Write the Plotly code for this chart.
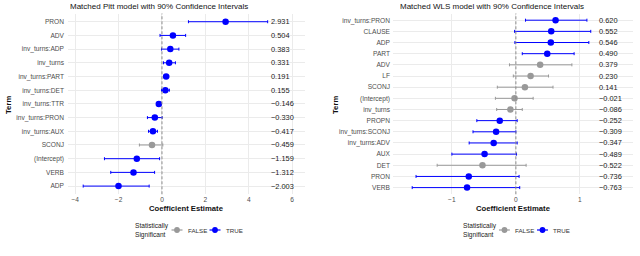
import plotly.graph_objects as go

# ---------------- data ----------------
pitt_terms = ["PRON", "ADV", "inv_turns:ADP", "inv_turns", "inv_turns:PART", "inv_turns:DET",
              "inv_turns:TTR", "inv_turns:PRON", "inv_turns:AUX", "SCONJ", "(Intercept)", "VERB", "ADP"]
pitt_est = [2.931, 0.504, 0.383, 0.331, 0.191, 0.155, -0.146, -0.330, -0.417, -0.459, -1.159, -1.312, -2.003]
pitt_lo = [1.22, -0.09, -0.02, 0.07, 0.07, -0.02, -0.22, -0.67, -0.62, -1.04, -2.65, -2.36, -3.63]
pitt_hi = [4.87, 1.09, 0.78, 0.62, 0.31, 0.34, -0.07, 0.01, -0.21, 0.04, -0.11, -0.34, -0.59]
pitt_sig = [True, True, True, True, True, True, True, True, True, False, True, True, True]

wls_terms = ["inv_turns:PRON", "CLAUSE", "ADP", "PART", "ADV", "LF", "SCONJ", "(Intercept)", "inv_turns",
             "PROPN", "inv_turns:SCONJ", "inv_turns:ADV", "AUX", "DET", "PRON", "VERB"]
wls_est = [0.620, 0.552, 0.546, 0.490, 0.379, 0.230, 0.141, -0.021, -0.086, -0.252, -0.309, -0.347,
           -0.489, -0.522, -0.736, -0.763]
wls_lo = [0.15, -0.02, -0.015, 0.10, -0.10, -0.04, -0.29, -0.32, -0.30, -0.61, -0.67, -0.73,
          -1.00, -1.23, -1.56, -1.62]
wls_hi = [1.11, 1.17, 1.14, 0.91, 0.875, 0.51, 0.58, 0.27, 0.10, 0.02, 0.00, 0.02, 0.01, 0.16, 0.05, 0.06]
wls_sig = [True, True, True, True, False, False, False, False, False, True, True, True, True, False, True, True]

pitt_ticks = [-4, -2, 0, 2, 4, 6]
wls_ticks = [-1, 0, 1]
legend_labels = ["FALSE", "TRUE"]
legend_title = "Statistically<br>Significant"

# ---------------- style ----------------
BLUE = "#0000FF"
GREY = "#999999"
GRID = "#EBEBEB"
AXTXT = "#4D4D4D"
FONT = "Liberation Sans, Arial, sans-serif"
W, H = 640, 256

fig = go.Figure()


def fmt(v):
    return f"{v:.3f}".replace("-", "\u2212")


def add_panel(terms, est, lo, hi, sig, xa, ya, label_x):
    idx = list(range(len(terms)))
    for flag, col in ((False, GREY), (True, BLUE)):
        sel = [i for i in idx if sig[i] == flag]
        if not sel:
            continue
        fig.add_trace(go.Scatter(
            x=[est[i] for i in sel], y=[i for i in sel],
            mode="markers",
            marker=dict(color=col, size=6.5, line=dict(width=0)),
            error_x=dict(type="data", symmetric=False,
                         array=[hi[i] - est[i] for i in sel],
                         arrayminus=[est[i] - lo[i] for i in sel],
                         color=col, thickness=1, width=1.5),
            xaxis=xa, yaxis=ya, showlegend=False, hoverinfo="skip"))
    for i in idx:
        fig.add_annotation(x=label_x, y=i, xref=xa, yref=ya, text=fmt(est[i]),
                           showarrow=False, xanchor="left", yanchor="middle",
                           font=dict(size=7.4, color="#1a1a1a", family=FONT))


add_panel(pitt_terms, pitt_est, pitt_lo, pitt_hi, pitt_sig, "x", "y", 4.93)
add_panel(wls_terms, wls_est, wls_lo, wls_hi, wls_sig, "x2", "y2", 1.27)

# zero reference lines
for xr, yr in (("x", "y domain"), ("x2", "y2 domain")):
    fig.add_shape(type="line", x0=0, x1=0, y0=0, y1=1, xref=xr, yref=yr,
                  line=dict(color="#8c8c8c", width=1, dash="3px,2px"), layer="above")


# manual legends (ggplot style, compact)
def px(x):
    return x / W


def py(y):
    return 1 - y / H


def add_legend(cx):
    ly = 230
    fig.add_annotation(x=px(cx - 53.5), y=py(ly), xref="paper", yref="paper", text=legend_title,
                       showarrow=False, xanchor="left", yanchor="middle", align="left",
                       font=dict(size=6.6, color="#222", family=FONT))
    for k, (lab, col) in enumerate(zip(legend_labels, (GREY, BLUE))):
        g0 = cx - 15 + 38 * k
        fig.add_shape(type="line", x0=px(g0), x1=px(g0 + 11), y0=py(ly), y1=py(ly), xref="paper",
                      yref="paper", line=dict(color=col, width=1.2))
        r = 2.9
        gc = g0 + 5.5
        fig.add_shape(type="circle", x0=px(gc - r), x1=px(gc + r), y0=py(ly - r), y1=py(ly + r),
                      xref="paper", yref="paper", fillcolor=col, line=dict(width=0))
        fig.add_annotation(x=px(g0 + 14), y=py(ly), xref="paper", yref="paper", text=lab,
                           showarrow=False, xanchor="left", yanchor="middle",
                           font=dict(size=6.2, color="#333", family=FONT))


add_legend(186.5)
add_legend(514)

ydom = [(H - 194.3) / H, (H - 13.5) / H]
axis_common = dict(showgrid=True, gridcolor=GRID, gridwidth=1, zeroline=False, showline=False,
                   ticks="", tickfont=dict(size=6.6, color=AXTXT, family=FONT), fixedrange=True)

fig.update_layout(
    width=W, height=H, margin=dict(l=0, r=0, t=0, b=0),
    paper_bgcolor="white", plot_bgcolor="white",
    font=dict(family=FONT), showlegend=False, hovermode=False,
    xaxis=dict(domain=[68 / W, 305 / W], range=[-4.33, 6.59], tickvals=pitt_ticks,
               anchor="y", **axis_common),
    yaxis=dict(domain=ydom, range=[len(pitt_terms) - 0.4, -0.6], tickvals=list(range(len(pitt_terms))),
               ticktext=pitt_terms, anchor="x", ticklabelstandoff=3, **axis_common),
    xaxis2=dict(domain=[393 / W, 633 / W], range=[-1.92, 1.83], tickvals=wls_ticks,
                anchor="y2", **axis_common),
    yaxis2=dict(domain=ydom, range=[len(wls_terms) - 0.4, -0.6], tickvals=list(range(len(wls_terms))),
                ticktext=wls_terms, anchor="x2", ticklabelstandoff=2, **axis_common),
)

# titles and axis titles
for txt, x in (("Matched Pitt model with 90% Confidence Intervals", 158.5),
               ("Matched WLS model with 90% Confidence Intervals", 491.5)):
    fig.add_annotation(x=px(x), y=py(6), xref="paper", yref="paper", text=txt, showarrow=False,
                       xanchor="center", yanchor="middle", font=dict(size=8.0, color="#111", family=FONT))
for x in (186.5, 513.5):
    fig.add_annotation(x=px(x), y=py(208), xref="paper", yref="paper", text="<b>Coefficient Estimate</b>",
                       showarrow=False, xanchor="center", yanchor="middle",
                       font=dict(size=7.7, color="#111", family=FONT))
for x in (8, 335):
    fig.add_annotation(x=px(x), y=py(105), xref="paper", yref="paper", text="<b>Term</b>",
                       showarrow=False, xanchor="center", yanchor="middle", textangle=-90,
                       font=dict(size=7.7, color="#111", family=FONT))

fig.write_html("out.html", config={"displayModeBar": False, "staticPlot": True},
               post_script="document.body.style.margin='0px';")
